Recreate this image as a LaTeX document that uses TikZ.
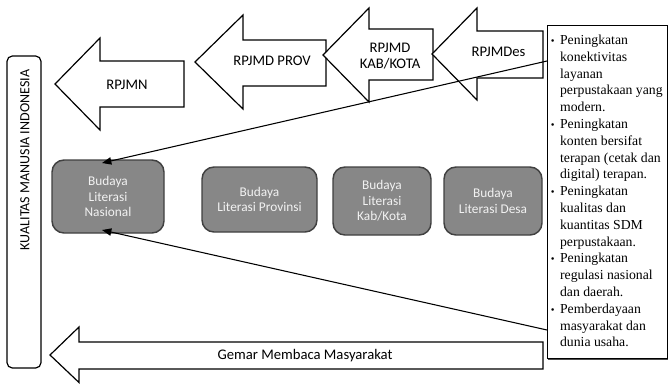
\documentclass[tikz,border=0pt]{standalone}
\usepackage{fontspec}
\setmainfont{Carlito}
\newfontfamily\timesfont{Liberation Serif}
\usetikzlibrary{arrows.meta}
\definecolor{budfill}{HTML}{878787}
\definecolor{budline}{HTML}{404040}
\definecolor{budtext}{HTML}{F2F2F2}
\tikzset{
  bigarrow/.style={draw=black, line width=0.9pt, fill=white, line join=miter},
  arrowtext/.style={font=\fontsize{11}{11.5}\selectfont, align=center, inner sep=0pt},
  budaya/.style={draw=budline, line width=1.1pt, fill=budfill, rounded corners=9pt,
    text=budtext, align=center, font=\fontsize{10}{11.6}\selectfont, inner sep=0pt},
  pointer/.style={draw=black, line width=0.8pt, -{Triangle[length=7pt,width=5.5pt]}},
}
\begin{document}
\begin{tikzpicture}[x=0.75pt,y=-0.75pt]
\useasboundingbox (0,0) rectangle (668,383);
% KUALITAS box
\node[draw=black, line width=0.9pt, rounded corners=4pt, minimum width=25.5pt, minimum height=234pt, inner sep=0pt] (kual) at (24,212) {};
\node[rotate=90, font=\fontsize{10.5}{12}\selectfont, inner sep=0pt] (kualtxt) at (25,160) {KUALITAS MANUSIA INDONESIA};
% RPJMN arrow
\draw[bigarrow] (55,84) -- (100,38) -- (100,61) -- (184,61) -- (184,107) -- (100,107) -- (100,130) -- cycle;
\node[arrowtext] (rpjmn) at (127,85) {RPJMN};
% RPJMD PROV arrow
\draw[bigarrow] (195,62) -- (243,15) -- (243,40) -- (326,40) -- (326,86) -- (243,86) -- (243,109) -- cycle;
\node[arrowtext] (prov) at (272,61) {RPJMD PROV};
% RPJMD KAB/KOTA arrow
\draw[bigarrow] (323,55) -- (369,8) -- (369,29) -- (433,29) -- (433,80) -- (369,80) -- (369,102) -- cycle;
\node[arrowtext] (kab) at (390,56) {RPJMD\\KAB/KOTA};
% RPJMDes arrow
\draw[bigarrow] (432,54) -- (477,8) -- (477,31) -- (543,31) -- (543,78) -- (477,78) -- (477,100) -- cycle;
\node[arrowtext] (des) at (498.5,52) {RPJMDes};
% Gemar arrow
\draw[bigarrow] (50,355) -- (79,327) -- (79,342) -- (543,342) -- (543,369) -- (79,369) -- (79,382.5) -- cycle;
\node[arrowtext] (gemar) at (305,356) {Gemar Membaca Masyarakat};
% Budaya nodes
\node[budaya, minimum width=84pt, minimum height=54.75pt] (nas) at (108,196.5) {Budaya\\Literasi\\Nasional};
\node[budaya, minimum width=86.25pt, minimum height=48.75pt] (prv) at (259.5,199.5) {Budaya\\Literasi Provinsi};
\node[budaya, minimum width=73.5pt, minimum height=51pt] (kk) at (382,201) {Budaya\\Literasi\\Kab/Kota};
\node[budaya, minimum width=73.5pt, minimum height=51pt] (ds) at (493,201) {Budaya\\Literasi Desa};
% Text box
\node[draw=black, line width=0.8pt, minimum width=90pt, minimum height=249.75pt, inner sep=0pt, anchor=north west, fill=white] (box) at (547,25) {};
\draw[line width=0.6pt, draw=black!70] ([xshift=0.6pt,yshift=-0.5pt]box.south west) -- ([yshift=-0.5pt]box.south east);
\node[anchor=north west, inner sep=0pt, font=\timesfont\fontsize{10.3}{12.6}\selectfont] (boxtxt) at (550.5,32.5) {%
\begin{tabular}{@{}l@{}}
\makebox[7pt][l]{\fontsize{8}{8}\selectfont\textbullet}Peningkatan\\
\makebox[7pt][l]{}konektivitas\\
\makebox[7pt][l]{}layanan\\
\makebox[7pt][l]{}perpustakaan yang\\
\makebox[7pt][l]{}modern.\\
\makebox[7pt][l]{\fontsize{8}{8}\selectfont\textbullet}Peningkatan\\
\makebox[7pt][l]{}konten bersifat\\
\makebox[7pt][l]{}terapan (cetak dan\\
\makebox[7pt][l]{}digital) terapan.\\
\makebox[7pt][l]{\fontsize{8}{8}\selectfont\textbullet}Peningkatan\\
\makebox[7pt][l]{}kualitas dan\\
\makebox[7pt][l]{}kuantitas SDM\\
\makebox[7pt][l]{}perpustakaan.\\
\makebox[7pt][l]{\fontsize{8}{8}\selectfont\textbullet}Peningkatan\\
\makebox[7pt][l]{}regulasi nasional\\
\makebox[7pt][l]{}dan daerah.\\
\makebox[7pt][l]{\fontsize{8}{8}\selectfont\textbullet}Pemberdayaan\\
\makebox[7pt][l]{}masyarakat dan\\
\makebox[7pt][l]{}dunia usaha.
\end{tabular}};
% connectors
\coordinate (b1) at (box.west |- 0,61);
\coordinate (b2) at (box.west |- 0,330);
\coordinate (n1) at (102,163);
\coordinate (n2) at (102,230);
\draw[pointer] (b1) -- (n1);
\draw[pointer] (b2) -- (n2);
\end{tikzpicture}
\end{document}
